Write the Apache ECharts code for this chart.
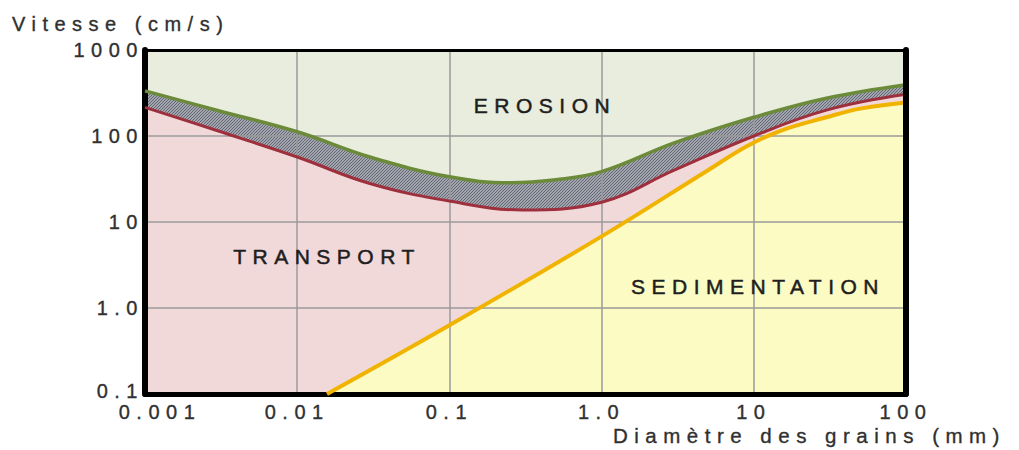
<!DOCTYPE html>
<html>
<head>
<meta charset="utf-8">
<script src="https://cdn.jsdelivr.net/npm/echarts@6.0.0/dist/echarts.min.js"></script>
<style>
html, body { margin: 0; padding: 0; background: #fff; }
#chart { width: 1019px; height: 450px; }
/* the original lettering is widely spaced */
#chart text { letter-spacing: 6.5px; }
</style>
</head>
<body>
<div id="chart"></div>
<script>
var sizeErosion = [0.001, 0.003, 0.01, 0.03, 0.1, 0.25, 0.5, 1, 3, 10, 30, 100];
var velErosion  = [335, 198, 112, 57, 33.5, 28.6, 31, 38.5, 83, 165, 275, 395];

var sizeTransport = [0.001, 0.003, 0.01, 0.03, 0.1, 0.3, 1, 3, 10, 30, 100];
var velTransport  = [215, 115, 57, 28, 17.5, 13.8, 17, 40, 100, 200, 305];

var sizeSediment = [0.0157, 0.1, 1, 5, 9, 15, 30, 50, 100];
var velSediment  = [0.1, 0.63, 6.8, 40, 76, 115, 165, 208, 245];

var xTickLabels = ['0.001', '0.01', '0.1', '1.0', '10', '100'];
var yTickLabels = ['0.1', '1.0', '10', '100', '1000'];

function pairs(xs, ys) {
    return xs.map(function (x, i) { return [x, ys[i]]; });
}

// petit motif pointille pour la bande erosion/transport
var hatch = document.createElement('canvas');
hatch.width = 3;
hatch.height = 3;
var hctx = hatch.getContext('2d');
hctx.fillStyle = '#a2a5ad';
hctx.fillRect(0, 0, 3, 3);
hctx.fillStyle = '#646874';
hctx.fillRect(0, 0, 1, 1);
hctx.fillRect(2, 1, 1, 1);
hctx.fillRect(1, 2, 1, 1);

var FONT = '"Liberation Sans", Arial, sans-serif';
var TXT = '#303030';
var labelStyle = { color: TXT, fontSize: 20, lineHeight: 18, fontFamily: FONT, textBorderColor: TXT, textBorderWidth: 0.35 };

var chart = echarts.init(document.getElementById('chart'), null, { renderer: 'svg' });

var option = {
    animation: false,
    backgroundColor: '#ffffff',
    grid: {
        left: 145, right: 113, top: 50, bottom: 56,
        show: true,
        backgroundColor: '#e9eddd',
        borderWidth: 0
    },
    xAxis: [{
        type: 'log',
        logBase: 10,
        min: 0.001,
        max: 100,
        position: 'bottom',
        z: 3,
        axisLine: { show: true, lineStyle: { color: '#000', width: 5 } },
        axisTick: { show: false },
        splitLine: { show: true, lineStyle: { color: '#9a9a9a', width: 1.5 } },
        axisLabel: echarts.util.extend({
            margin: 9,
            formatter: function (v) {
                var i = Math.round(Math.log10(v)) + 3;
                if (i === 0) return '{m|' + xTickLabels[i] + '}';
                return xTickLabels[i];
            },
            rich: {
                m: echarts.util.extend({ padding: [0, 0, 0, 30] }, labelStyle)
            }
        }, labelStyle)
    }, {
        type: 'log',
        min: 0.001,
        max: 100,
        position: 'top',
        z: 6,
        axisLine: { show: true, lineStyle: { color: '#000', width: 3 } },
        axisTick: { show: false },
        axisLabel: { show: false },
        splitLine: { show: false }
    }],
    yAxis: [{
        type: 'log',
        logBase: 10,
        min: 0.1,
        max: 1000,
        position: 'left',
        z: 3,
        axisLine: { show: true, lineStyle: { color: '#000', width: 6 } },
        axisTick: { show: false },
        splitLine: { show: true, lineStyle: { color: '#9a9a9a', width: 1.5 } },
        axisLabel: echarts.util.extend({
            margin: 1,
            formatter: function (v) {
                var i = Math.round(Math.log10(v)) + 1;
                if (i === 0) return '{m|' + yTickLabels[i] + '}';
                return yTickLabels[i];
            },
            rich: {
                m: echarts.util.extend({ padding: [0, 0, 6, 0] }, labelStyle)
            }
        }, labelStyle)
    }, {
        type: 'log',
        min: 0.1,
        max: 1000,
        position: 'right',
        z: 6,
        axisLine: { show: true, lineStyle: { color: '#000', width: 6 } },
        axisTick: { show: false },
        axisLabel: { show: false },
        splitLine: { show: false }
    }],
    series: [
        // zones remplies
        {
            type: 'line', name: 'bande', data: pairs(sizeErosion, velErosion),
            smooth: 0.4, symbol: 'none', z: 1, silent: true,
            lineStyle: { width: 0 },
            areaStyle: { origin: 'start', opacity: 1, color: { image: hatch, repeat: 'repeat', imageWidth: 3, imageHeight: 3 } }
        },
        {
            type: 'line', name: 'transport', data: pairs(sizeTransport, velTransport),
            smooth: 0.4, symbol: 'none', z: 1, silent: true,
            lineStyle: { width: 0 },
            areaStyle: { origin: 'start', opacity: 1, color: '#f1d9da' }
        },
        {
            type: 'line', name: 'sedimentation', data: pairs(sizeSediment, velSediment),
            smooth: 0.4, symbol: 'none', z: 1, silent: true,
            lineStyle: { width: 0 },
            areaStyle: { origin: 'start', opacity: 1, color: '#fdfbc4' }
        },
        // courbes
        {
            type: 'line', data: pairs(sizeErosion, velErosion),
            smooth: 0.4, symbol: 'none', z: 5, silent: true,
            lineStyle: { color: '#6c8b3a', width: 3.5 }
        },
        {
            type: 'line', data: pairs(sizeTransport, velTransport),
            smooth: 0.4, symbol: 'none', z: 5, silent: true,
            lineStyle: { color: '#9e2f3c', width: 3 }
        },
        {
            type: 'line', data: pairs(sizeSediment, velSediment),
            smooth: 0.4, symbol: 'none', z: 5, silent: true,
            lineStyle: { color: '#f0b400', width: 4 }
        }
    ],
    graphic: [
        { type: 'text', x: 12, y: 24, z: 100,
          style: { text: 'Vitesse (cm/s)', fill: TXT, stroke: TXT, lineWidth: 0.35, font: '20px ' + FONT, align: 'left', verticalAlign: 'middle' } },
        { type: 'text', x: 613, y: 435, z: 100,
          style: { text: 'Diamètre des grains (mm)', fill: TXT, stroke: TXT, lineWidth: 0.35, font: '20.5px ' + FONT, align: 'left', verticalAlign: 'middle' } },
        { type: 'text', x: 545, y: 105, z: 100,
          style: { text: 'EROSION', fill: '#1e1e1e', stroke: '#1e1e1e', lineWidth: 0.5, font: '21px ' + FONT, align: 'center', verticalAlign: 'middle' } },
        { type: 'text', x: 327, y: 256, z: 100,
          style: { text: 'TRANSPORT', fill: '#1e1e1e', stroke: '#1e1e1e', lineWidth: 0.5, font: '21px ' + FONT, align: 'center', verticalAlign: 'middle' } },
        { type: 'text', x: 758, y: 286, z: 100,
          style: { text: 'SEDIMENTATION', fill: '#1e1e1e', stroke: '#1e1e1e', lineWidth: 0.5, font: '21px ' + FONT, align: 'center', verticalAlign: 'middle' } }
    ]
};

chart.setOption(option);
</script>
</body>
</html>
